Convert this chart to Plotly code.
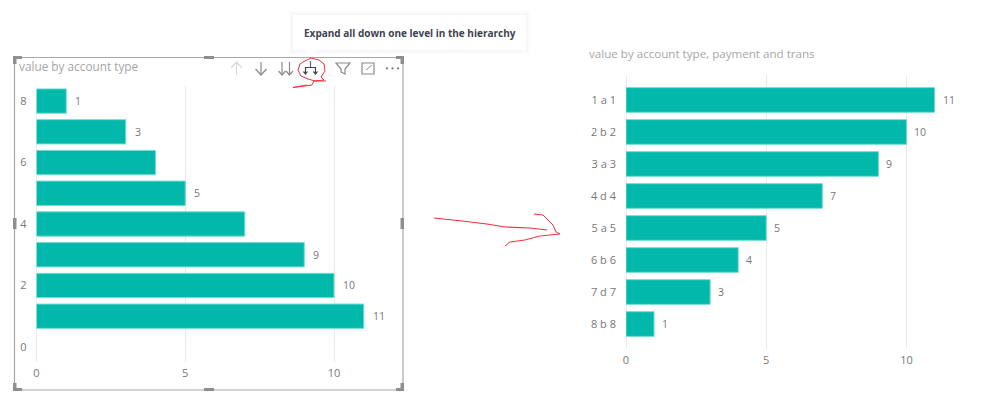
import plotly.graph_objects as go

WIDTH = 999
HEIGHT = 403

left_title = 'value by account type'
left_accounts = [8, 7, 6, 5, 4, 3, 2, 1]
left_values = [1, 3, 4, 5, 7, 9, 10, 11]
left_labels = ['1', '3', '', '5', '', '9', '10', '11']  # 4 and 7 have no label in the picture

right_title = 'value by account type, payment and trans'
right_categories = ['1 a 1', '2 b 2', '3 a 3', '4 d 4', '5 a 5', '6 b 6', '7 d 7', '8 b 8']
right_values = [11, 10, 9, 7, 5, 4, 3, 1]

tooltip_text = 'Expand all down one level in the hierarchy'

TEAL = '#01B8AA'
TICK_COLOR = '#777777'
TITLE_COLOR = '#a6a6a6'
GRID_COLOR = '#e9e9e9'
FONT = 'Open Sans'


def px_x(x):
    return x / WIDTH


def px_y(y):
    return 1 - y / HEIGHT


def rect(x0, y0, x1, y1, fill=None, line=None, width=1):
    return dict(type='rect', xref='paper', yref='paper', x0=px_x(x0), x1=px_x(x1), y0=px_y(y0), y1=px_y(y1),
                fillcolor=fill if fill else 'rgba(0,0,0,0)', line=dict(color=line, width=width if line else 0))


# Hand drawn bits and icons are given as pixel points on the screenshot
def stroke(points, color, width=1.0, close=False, fill=None):
    d = 'M' + ' L'.join(f'{px_x(x):.5f},{px_y(y):.5f}' for x, y in points)
    if close:
        d += ' Z'
    return dict(type='path', xref='paper', yref='paper', path=d, line=dict(color=color, width=width),
                fillcolor=fill if fill else 'rgba(0,0,0,0)')


def text_note(x, y, text, size, color):
    return dict(xref='paper', yref='paper', x=px_x(x), y=px_y(y), text=text, showarrow=False, xanchor='left',
                yanchor='middle', font=dict(family=FONT, size=size, color=color))


def frame_shapes():
    shapes = [rect(14.5, 57.5, 403, 390, line='#a8a8a8', width=1.2)]
    # corner and edge handles
    handle = '#8f8f8f'
    shapes += [rect(13, 56, 22, 59, fill=handle), rect(13, 56, 16.5, 64, fill=handle),
               rect(396, 56, 404, 59, fill=handle), rect(400.5, 56, 404, 64, fill=handle),
               rect(13, 388, 22, 391, fill=handle), rect(13, 383, 16.5, 391, fill=handle),
               rect(396, 388, 404, 391, fill=handle), rect(400.5, 383, 404, 391, fill=handle),
               rect(204, 56, 214, 59, fill=handle), rect(204, 388, 214, 391, fill=handle),
               rect(13, 218, 16.5, 229, fill=handle), rect(400.5, 218, 404, 229, fill=handle)]
    return shapes


def icon_shapes():
    shapes = []
    # up arrow
    shapes.append(stroke([(236.5, 75), (236.5, 62)], '#d8d8d8', 1.2))
    shapes.append(stroke([(231, 68), (236.5, 62), (242, 68)], '#d8d8d8', 1.2))
    # down arrow
    shapes.append(stroke([(261, 62), (261, 75)], '#8a8a8a', 1.2))
    shapes.append(stroke([(255.5, 69), (261, 75), (266.5, 69)], '#8a8a8a', 1.2))
    # double down arrow
    for x in (282, 289.5):
        shapes.append(stroke([(x, 62), (x, 75)], '#8a8a8a', 1.2))
        shapes.append(stroke([(x - 3.5, 71), (x, 75), (x + 3.5, 71)], '#8a8a8a', 1.2))
    # expand hierarchy
    shapes.append(stroke([(310.5, 61), (310.5, 67)], '#7a4fa0', 1.2))
    shapes.append(stroke([(305.5, 73), (305.5, 67.5), (315.5, 67.5), (315.5, 73)], '#444444', 1.2))
    shapes.append(stroke([(303.5, 71.5), (305.5, 74), (307.5, 71.5)], '#444444', 1.2))
    shapes.append(stroke([(313.5, 71.5), (315.5, 74), (317.5, 71.5)], '#444444', 1.2))
    # filter
    shapes.append(stroke([(336, 63), (350, 63), (345, 69), (345, 74), (341, 72), (341, 69)], '#8a8a8a', 1.2, close=True))
    # focus mode
    shapes.append(stroke([(362, 63), (374, 63), (374, 74), (362, 74)], '#8a8a8a', 1.2, close=True))
    shapes.append(stroke([(366, 70), (372, 65)], '#8a8a8a', 1.0))
    # more options
    for x in (387, 392.5, 398):
        shapes.append(rect(x - 0.9, 67.5, x + 0.9, 69.3, fill='#666666'))
    return shapes


def red_shapes():
    red = '#f0303c'
    scribble = [(303, 62), (311, 58), (319, 60), (324, 64), (325, 71), (321, 77), (324, 80), (315, 81), (308, 79),
                (301, 76), (298, 70), (300, 64), (303, 62)]
    tail = [(326, 81), (314, 81), (312, 85), (305, 86), (293, 87.5), (307, 85)]
    arrow = [(434, 218), (462, 221), (487, 224), (505, 227), (530, 228), (547, 230)]
    head_top = [(534, 214), (543, 215), (553, 225), (556, 232), (560, 234)]
    head_bottom = [(560, 234), (540, 236), (525, 240), (510, 242), (505, 246)]
    return [stroke(scribble, red, 1.0), stroke(tail, red, 1.0), stroke(arrow, red, 1.2), stroke(head_top, red, 1.0),
            stroke(head_bottom, red, 1.0)]


def tooltip_shapes():
    shapes = []
    # soft shadow around the tooltip box
    for grow, color in ((4, '#fbfbfb'), (2, '#f7f7f7')):
        shapes.append(rect(293 - grow, 15 - grow, 526 + grow, 50 + grow, fill=color))
    shapes.append(rect(293, 15, 526, 50, fill='#ffffff'))
    shapes.append(stroke([(305, 50), (311, 56), (317, 50)], '#ffffff', 0.5, close=True, fill='#ffffff'))
    return shapes


def main():
    fig = go.Figure()

    fig.add_trace(go.Bar(x=left_values, y=left_accounts, orientation='h', xaxis='x', yaxis='y', width=0.79,
                         marker=dict(color=TEAL, line=dict(color='#6fdcd2', width=1)), showlegend=False))
    fig.add_trace(go.Bar(x=right_values, y=right_categories, orientation='h', xaxis='x2', yaxis='y2', width=0.77,
                         marker=dict(color=TEAL, line=dict(color='#6fdcd2', width=1)), showlegend=False))

    notes = [text_note(17, 66, left_title, 11.8, TITLE_COLOR), text_note(587, 54, right_title, 11.6, TITLE_COLOR),
             text_note(302, 33, f'<b>{tooltip_text}</b>', 10, '#3d4450')]
    for value, account, label in zip(left_values, left_accounts, left_labels):
        if label:
            notes.append(dict(xref='x', yref='y', x=value, y=account, text=label, showarrow=False, xanchor='left',
                              xshift=7, font=dict(family=FONT, size=10.5, color=TICK_COLOR)))
    for value, category in zip(right_values, right_categories):
        notes.append(dict(xref='x2', yref='y2', x=value, y=category, text=str(value), showarrow=False, xanchor='left',
                          xshift=6, font=dict(family=FONT, size=10.5, color=TICK_COLOR)))

    tick_font = dict(family=FONT, size=11, color=TICK_COLOR)
    axis_common = dict(showline=False, zeroline=True, zerolinecolor=GRID_COLOR, zerolinewidth=1, ticks='',
                       tickfont=tick_font, automargin=False, ticklabelstandoff=3)

    fig.update_layout(
        width=WIDTH,
        height=HEIGHT,
        margin=dict(l=0, r=0, t=0, b=0),
        paper_bgcolor='white',
        plot_bgcolor='rgba(0,0,0,0)',
        font=dict(family=FONT),
        xaxis=dict(domain=[px_x(36.5), px_x(393.5)], range=[0, 12], anchor='y', tickvals=[0, 5, 10], showgrid=True,
                   gridcolor=GRID_COLOR, **axis_common),
        yaxis=dict(domain=[px_y(362), px_y(86)], range=[-0.49, 8.49], anchor='x', tickvals=[0, 2, 4, 6, 8],
                   showgrid=False, showline=False, zeroline=False, ticks='', tickfont=tick_font, automargin=False,
                   ticklabelstandoff=9),
        xaxis2=dict(domain=[px_x(626), px_x(962)], range=[0, 11.98], anchor='y2', tickvals=[0, 5, 10], showgrid=True,
                    gridcolor=GRID_COLOR, **axis_common),
        yaxis2=dict(domain=[px_y(349), px_y(75)], anchor='x2', categoryorder='array',
                    categoryarray=right_categories[::-1], range=[-0.78, 7.78], showgrid=False, showline=False,
                    zeroline=False, ticks='', tickfont=tick_font, automargin=False, ticklabelstandoff=9),
        shapes=frame_shapes() + icon_shapes() + tooltip_shapes() + red_shapes(),
        annotations=notes,
    )

    fig.write_html("out.html", config=dict(displayModeBar=False), post_script="document.body.style.margin='0';")


main()
